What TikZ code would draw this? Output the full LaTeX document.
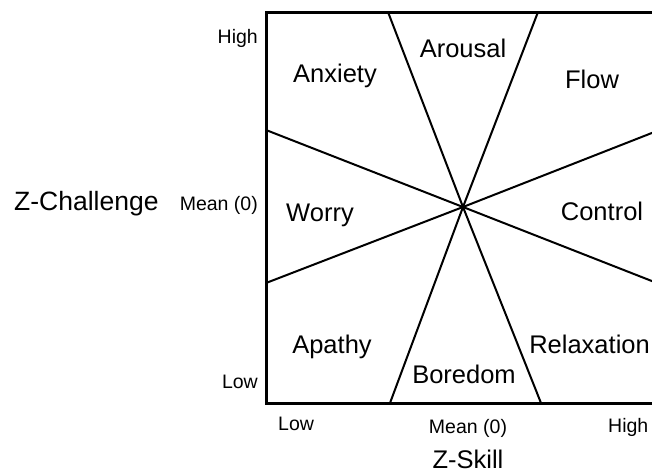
\documentclass[tikz,border=0pt]{standalone}
\usepackage{fontspec}
\setmainfont{Liberation Sans}
\begin{document}
\begin{tikzpicture}[x=1pt,y=-1pt,
  big/.style={font=\fontsize{25.5}{28}\selectfont, inner sep=0pt, anchor=base},
  small/.style={font=\fontsize{19.5}{22}\selectfont, inner sep=0pt, anchor=base},
  sector/.style={line width=2pt},
  frame/.style={line width=3pt}]
\useasboundingbox (0,0) rectangle (652,475);
\begin{scope}
\clip (0,0) rectangle (652,475);
\coordinate (tl) at (266,12);
\coordinate (br) at (662,403);
\coordinate (c) at (463,207);
\coordinate (t1) at (388,12);
\coordinate (t2) at (538,12);
\coordinate (b1) at (390,403);
\coordinate (b2) at (541,403);
\coordinate (l1) at (266,130);
\coordinate (l2) at (266,283);
\coordinate (r1) at (662,129);
\coordinate (r2) at (662,285);
\draw[sector] (t1) -- (c) -- (b2);
\draw[sector] (t2) -- (c) -- (b1);
\draw[sector] (l1) -- (c) -- (r2);
\draw[sector] (l2) -- (c) -- (r1);
\draw[frame] (tl) rectangle (br);
\node[big] (arousal) at (463,57) {Arousal};
\node[big] (anxiety) at (335,82) {Anxiety};
\node[big] (flow) at (592,88) {Flow};
\node[big] (worry) at (320,221) {Worry};
\node[big] (control) at (602,220) {Control};
\node[big] (apathy) at (332,353) {Apathy};
\node[big] (boredom) at (464,383) {Boredom};
\node[big, anchor=base east] (relax) at (650,353) {Relaxation};
\node[small, anchor=base east] (yhigh) at (258,43) {High};
\node[small, anchor=base east] (ymean) at (258,210) {Mean (0)};
\node[small, anchor=base east] (ylow) at (258,388) {Low};
\node[big, font=\fontsize{26.5}{30}\selectfont, anchor=base west] (zch) at (14,210) {Z-Challenge};
\node[small, anchor=base west] (xlow) at (278,430) {Low};
\node[small] (xmean) at (468,433) {Mean (0)};
\node[small, anchor=base west] (xhigh) at (608,432) {High};
\node[big] (zsk) at (468,468) {Z-Skill};
\end{scope}
\end{tikzpicture}
\end{document}
